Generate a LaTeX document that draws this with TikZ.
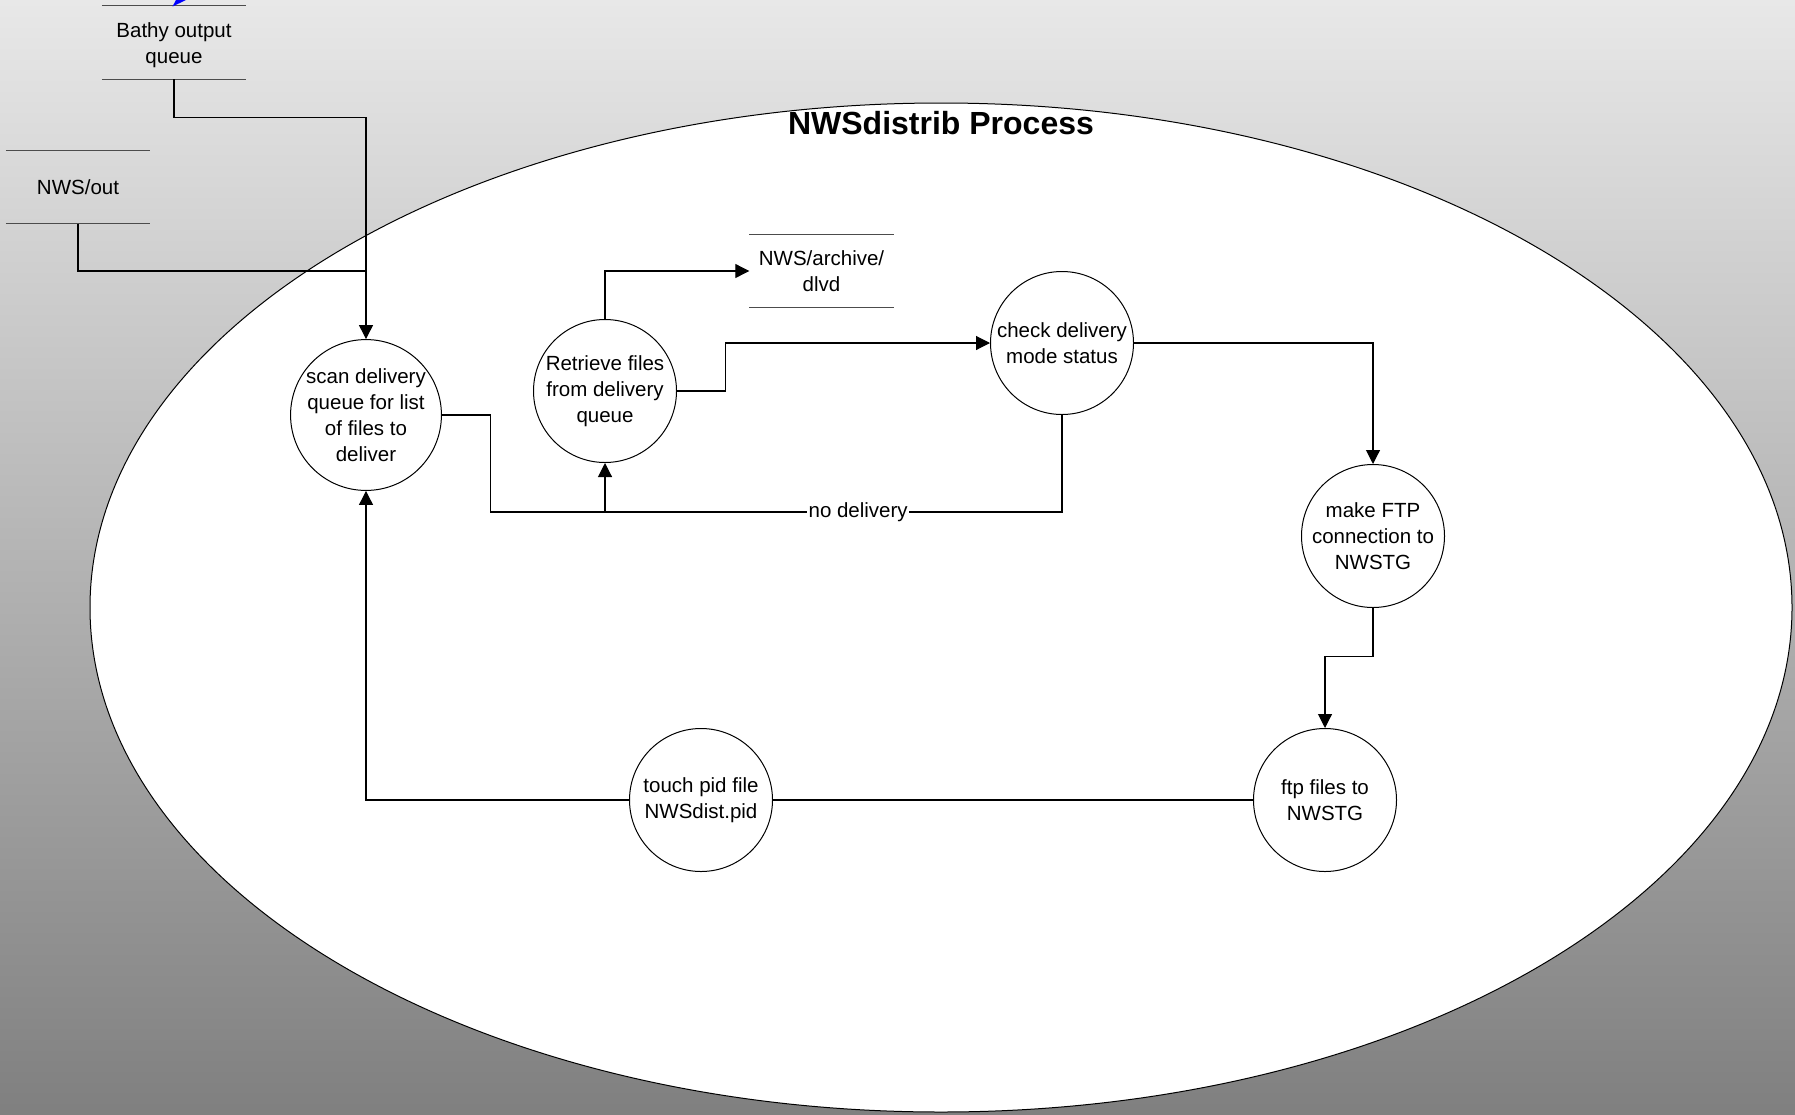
\documentclass[tikz,border=0pt]{standalone}
\usepackage{fontspec}
\setmainfont{Liberation Sans}
\usetikzlibrary{arrows.meta}
\definecolor{bgtop}{gray}{0.91}
\definecolor{bgbot}{gray}{0.5}
\definecolor{arrblue}{RGB}{0,0,255}
\tikzset{
  txt/.style={font=\fontsize{20.5bp}{25.8bp}\selectfont, align=center},
  proc/.style={txt, circle, draw=black, line width=1bp, fill=white, minimum size=143bp, inner sep=0pt},
  store/.style={txt, minimum width=144bp, minimum height=73bp, inner sep=0pt},
  storeline/.style={draw=black!70, line width=1.2bp},
  conn/.style={draw=black, line width=1.1bp},
  arr/.style={conn, -{Triangle[length=14bp,width=14bp]}},
}
\begin{document}
\begin{tikzpicture}[x=1bp,y=-1bp]
\useasboundingbox (0,0) rectangle (1795,1114);
\shade[top color=bgtop, bottom color=bgbot] (0,0) rectangle (1795,1114);
% process boundary
\draw[fill=white, line width=1bp] (941,607.5) ellipse [x radius=851, y radius=504.5];
\node[font=\fontsize{32bp}{38bp}\selectfont\bfseries] (title) at (941,123) {NWSdistrib Process};

% data stores
\node[store] (bathy) at (174,42.5) {};
\node[txt] (bathytext) at ([yshift=-3bp]bathy.center) {Bathy output\\queue};
\draw[storeline] (bathy.north west) -- (bathy.north east);
\draw[storeline] (bathy.south west) -- (bathy.south east);
\fill[arrblue] (172.5,6.5) -- (176,0) -- (186,0) -- cycle;

\node[store] (nwsout) at (78,187) {NWS/out};
\draw[storeline] (nwsout.north west) -- (nwsout.north east);
\draw[storeline] (nwsout.south west) -- (nwsout.south east);

\node[store] (arch) at (821.5,271) {NWS/archive/\\dlvd};
\draw[storeline] (arch.north west) -- (arch.north east);
\draw[storeline] (arch.south west) -- (arch.south east);

% processes
\node[proc] (scan) at (366,415) {scan delivery\\queue for list\\of files to\\deliver};
\node[proc] (retr) at (605,391) {Retrieve files\\from delivery\\queue};
\node[proc] (check) at (1062,343) {check delivery\\mode status};
\node[proc] (ftpc) at (1373,536) {make FTP\\connection to\\NWSTG};
\node[proc] (ftpf) at (1325,800) {ftp files to\\NWSTG};
\node[proc] (touch) at (701,800) {touch pid file\\NWSdist.pid};

% junction points
\coordinate (jn) at (366,271);
\coordinate (jd) at (605,512);

% connectors
\draw[arr] (bathy.south) -- ++(0,38) -| (scan.north);
\draw[conn] (nwsout.south) |- (jn);
\draw[arr] (retr.north) |- (arch.west);
\draw[arr] (retr.east) -- ++(48.5,0) |- (check.west);
\draw[conn] (scan.east) -- ++(48.5,0) |- (jd);
\draw[arr] (jd) -- (retr.south);
\draw[conn] (check.south) |- node[pos=0.723, txt, fill=white, inner sep=1.5bp] {no delivery} (jd);
\draw[arr] (check.east) -| (ftpc.north);
\draw[arr] (ftpc.south) -- ++(0,48.5) -| (ftpf.north);
\draw[conn] (ftpf.west) -- (touch.east);
\draw[arr] (touch.west) -| (scan.south);
\end{tikzpicture}
\end{document}
